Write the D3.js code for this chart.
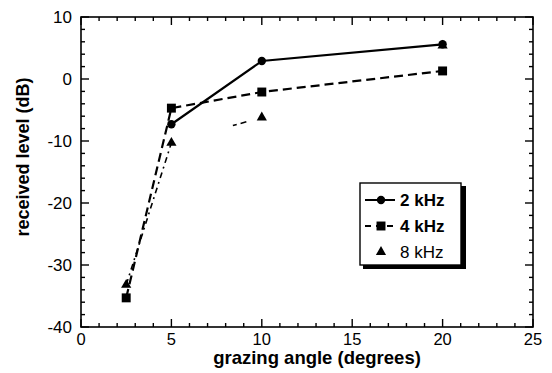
<!DOCTYPE html>
<html>
<head>
<meta charset="utf-8">
<script src="https://cdn.jsdelivr.net/npm/d3@7"></script>
<style>
  body { margin: 0; background: #fff; }
  svg { display: block; }
</style>
</head>
<body>
<div id="chart"></div>
<script>
// data
const angles = [2.5, 5, 10, 20];
const level2k = [null, -7.3, 2.9, 5.6];
const level4k = [-35.3, -4.7, -2.1, 1.3];
const level8k = [-33.2, -10.3, -6.2, 5.4];
const seriesNames = ["2 kHz", "4 kHz", "8 kHz"];
const xTicks = [0, 5, 10, 15, 20, 25];
const yTicks = [-40, -30, -20, -10, 0, 10];

const width = 552, height = 373;
const margin = { top: 17, right: 19, bottom: 46, left: 81 };
const font = "'Liberation Sans', Arial, Helvetica, sans-serif";

const svg = d3.select("#chart").append("svg")
  .attr("width", width)
  .attr("height", height)
  .attr("font-family", font);

const x = d3.scaleLinear().domain([0, 25]).range([margin.left, width - margin.right]);
const y = d3.scaleLinear().domain([-40, 10]).range([height - margin.bottom, margin.top]);

const g = svg.append("g");

// frame
g.append("rect")
  .attr("x", x(0)).attr("y", y(10))
  .attr("width", x(25) - x(0)).attr("height", y(-40) - y(10))
  .attr("fill", "none").attr("stroke", "#000").attr("stroke-width", 1.6);

// ticks (inward on all four sides)
const xMinor = d3.range(0, 26, 1);
const yMinor = d3.range(-40, 11, 2);
const tickLines = [];
xMinor.forEach(v => {
  const len = v % 5 === 0 ? 8 : 4;
  tickLines.push([x(v), y(-40), x(v), y(-40) - len]);
  tickLines.push([x(v), y(10), x(v), y(10) + len]);
});
yMinor.forEach(v => {
  const len = v % 10 === 0 ? 8 : 4;
  tickLines.push([x(0), y(v), x(0) + len, y(v)]);
  tickLines.push([x(25), y(v), x(25) - len, y(v)]);
});
g.selectAll(".tick").data(tickLines).join("line")
  .attr("class", "tick")
  .attr("x1", d => d[0]).attr("y1", d => d[1])
  .attr("x2", d => d[2]).attr("y2", d => d[3])
  .attr("stroke", "#000").attr("stroke-width", 1.4);

// tick labels
g.selectAll(".xlab").data(xTicks).join("text")
  .attr("class", "xlab")
  .attr("x", d => x(d)).attr("y", y(-40) + 18)
  .attr("text-anchor", "middle")
  .attr("font-size", 16.5)
  .text(d => d);

g.selectAll(".ylab").data(yTicks).join("text")
  .attr("class", "ylab")
  .attr("x", x(0) - 9).attr("y", d => y(d) + 6)
  .attr("text-anchor", "end")
  .attr("font-size", 17)
  .text(d => d);

// axis titles
svg.append("text")
  .attr("x", 317).attr("y", 364)
  .attr("text-anchor", "middle")
  .attr("font-size", 18.5).attr("font-weight", "bold")
  .text("grazing angle (degrees)");

svg.append("text")
  .attr("transform", "translate(29,157) rotate(-90)")
  .attr("text-anchor", "middle")
  .attr("font-size", 18).attr("font-weight", "bold")
  .text("received level (dB)");

// series
const toPts = vals => angles.map((a, i) => [a, vals[i]]).filter(d => d[1] !== null);
const line = d3.line().x(d => x(d[0])).y(d => y(d[1]));

const series = [
  { name: seriesNames[0], pts: toPts(level2k), dash: null, width: 2.2, shape: "circle" },
  { name: seriesNames[1], pts: toPts(level4k), dash: "9,5", width: 2.2, shape: "square" },
  { name: seriesNames[2], pts: toPts(level8k), dash: "dashdot", width: 1.6, shape: "triangle" }
];

const symbolFor = shape => shape === "circle" ? d3.symbol(d3.symbolCircle, 55)
  : shape === "square" ? d3.symbol(d3.symbolSquare, 80)
  : d3.symbol(d3.symbolTriangle, 45);

series.forEach(s => {
  if (s.dash === "dashdot") {
    // faint dash-dot line: drawn per segment, mostly lost in the original print
    const segs = d3.pairs(s.pts);
    segs.forEach((seg, i) => {
      if (i > 1) return;
      const p = g.append("path")
        .datum(seg)
        .attr("d", line)
        .attr("fill", "none")
        .attr("stroke", "#000")
        .attr("stroke-width", s.width);
      const L = p.node().getTotalLength();
      if (i === 0) p.attr("stroke-dasharray", "6,4,2,4");
      else p.attr("stroke-dasharray", `0,${L * 0.68},4,4,6,${L}`);
    });
  } else {
    g.append("path")
      .datum(s.pts)
      .attr("d", line)
      .attr("fill", "none")
      .attr("stroke", "#000")
      .attr("stroke-width", s.width)
      .attr("stroke-dasharray", s.dash);
  }
  g.selectAll(".m-" + s.shape).data(s.pts).join("path")
    .attr("class", "m-" + s.shape)
    .attr("transform", d => `translate(${x(d[0])},${y(d[1])})`)
    .attr("d", symbolFor(s.shape)())
    .attr("fill", "#000");
});

// legend
const lg = svg.append("g").attr("transform", "translate(360,183)");
lg.append("rect").attr("x", 3).attr("y", 3).attr("width", 103).attr("height", 83).attr("fill", "#000");
lg.append("rect").attr("x", 0).attr("y", 0).attr("width", 101).attr("height", 82)
  .attr("fill", "#fff").attr("stroke", "#000").attr("stroke-width", 1.4);

const rows = lg.selectAll(".row").data(series).join("g")
  .attr("class", "row")
  .attr("transform", (d, i) => `translate(0,${17 + i * 26})`);

rows.filter((d, i) => i < 2).append("line")
  .attr("x1", 5).attr("x2", 35).attr("y1", 0).attr("y2", 0)
  .attr("stroke", "#000").attr("stroke-width", 2)
  .attr("stroke-dasharray", d => d.dash ? "6,5" : null);

rows.append("path")
  .attr("transform", "translate(21,0)")
  .attr("d", d => symbolFor(d.shape)())
  .attr("fill", "#000");

rows.append("text")
  .attr("x", 40).attr("y", 6)
  .attr("font-size", 17)
  .attr("font-weight", (d, i) => i < 2 ? "bold" : "normal")
  .text(d => d.name);
</script>
</body>
</html>
